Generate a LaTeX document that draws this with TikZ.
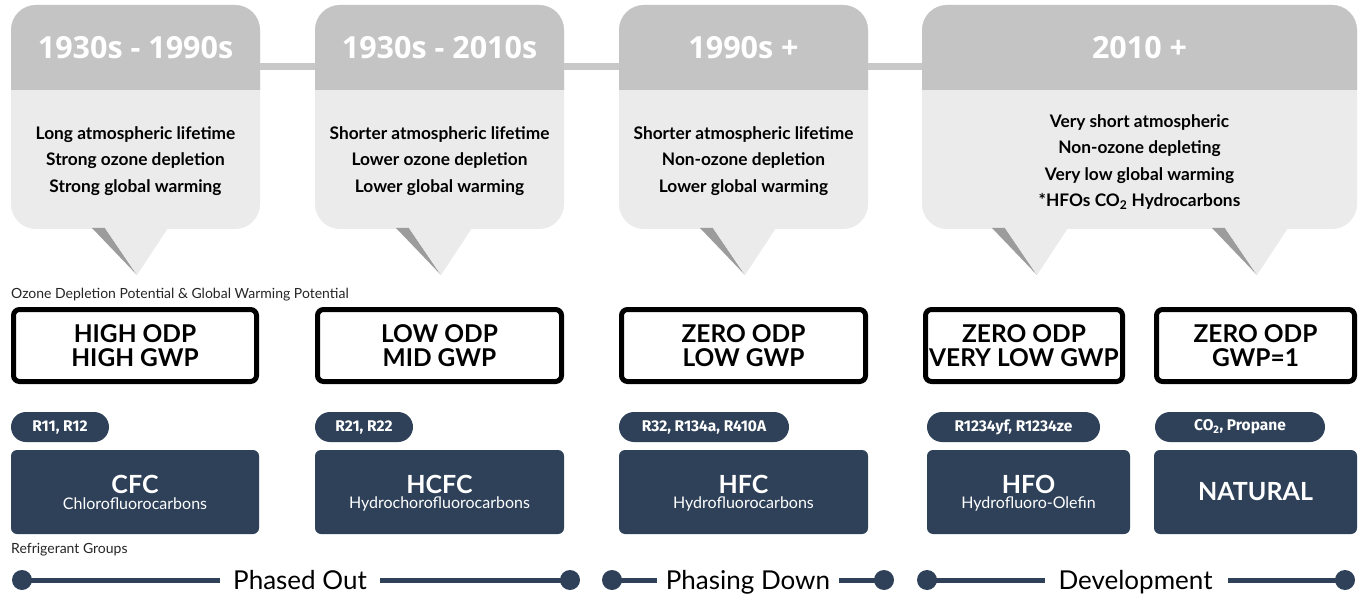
\documentclass[tikz,border=0pt]{standalone}
\usepackage{fontspec}
\setmainfont{Lato}
\newfontfamily\hdrfont{Open Sans}
\newfontfamily\pillfont{Fira Sans}
\definecolor{navy}{HTML}{2E4159}
\definecolor{hdrgray}{HTML}{C4C4C4}
\definecolor{bodygray}{HTML}{EBEBEB}
\definecolor{tailgray}{HTML}{9C9C9C}
\definecolor{bargray}{HTML}{C8C8C8}
\tikzset{
  hdrtext/.style={text=white, inner sep=0pt, font=\hdrfont\bfseries\fontsize{30.5}{32}\selectfont},
  bodytext/.style={align=center, inner sep=0pt, font=\bfseries\fontsize{17.3}{26.5}\selectfont},
  odpbox/.style={draw=black, line width=5pt, rounded corners=6pt, fill=white, inner sep=0pt,
    align=center, font=\bfseries\fontsize{24.5}{24}\selectfont},
  pill/.style={fill=navy, rounded corners=15pt, minimum height=30pt, inner sep=0pt,
    text=white, font=\pillfont\bfseries\fontsize{15.5}{16}\selectfont},
  groupbox/.style={fill=navy, rounded corners=6pt, minimum height=84pt, inner sep=0pt},
  grouptitle/.style={text=white, inner sep=0pt, font=\bfseries\fontsize{25}{25}\selectfont},
  groupsub/.style={text=white, inner sep=0pt, font=\fontsize{16}{16}\selectfont},
  smalllabel/.style={anchor=west, inner sep=0pt, text=black!85, font=\fontsize{14}{14}\selectfont},
  tldot/.style={circle, fill=navy, minimum size=20pt, inner sep=0pt},
  tlline/.style={navy, line width=5pt},
  tltext/.style={inner sep=0pt, anchor=base, font=\fontsize{26}{28}\selectfont},
}
\newcommand{\callout}[2]{% x1, x2
  \fill[bodygray, rounded corners=25pt] (#1,5) rectangle (#2,229);
  \begin{scope}
    \clip (#1,5) rectangle (#2,90);
    \fill[hdrgray, rounded corners=25pt] (#1,5) rectangle (#2,229);
  \end{scope}
}
\newcommand{\calltail}[1]{% apex x
  \fill[tailgray] (#1-45,228) -- (#1-32,228) -- (#1,275) -- cycle;
  \fill[bodygray] (#1-32,228) -- (#1+31,228) -- (#1,275) -- cycle;
}
\begin{document}
\begin{tikzpicture}[x=1pt,y=-1pt]
\useasboundingbox (0,0) rectangle (1360,596);
\fill[white] (0,0) rectangle (1360,596);

% connecting bars
\fill[bargray] (250,63) rectangle (325,70);
\fill[bargray] (554,63) rectangle (629,70);
\fill[bargray] (858,63) rectangle (932,70);

% callouts
\callout{11}{260}
\callout{315}{564}
\callout{619}{868}
\callout{922}{1357}
\calltail{137}
\calltail{441}
\calltail{745}
\calltail{1037}
\calltail{1257}

\node[hdrtext] (h1) at (135.5,48) {1930s - 1990s};
\node[hdrtext] (h2) at (439.5,48) {1930s - 2010s};
\node[hdrtext] (h3) at (743.5,48) {1990s +};
\node[hdrtext] (h4) at (1139.5,48) {2010 +};

\node[bodytext] (b1) at (135.5,161) {Long atmospheric lifetime\\Strong ozone depletion\\Strong global warming};
\node[bodytext] (b2) at (439.5,161) {Shorter atmospheric lifetime\\Lower ozone depletion\\Lower global warming};
\node[bodytext] (b3) at (743.5,161) {Shorter atmospheric lifetime\\Non-ozone depletion\\Lower global warming};
\node[bodytext] (b4) at (1139.5,162) {Very short atmospheric\\Non-ozone depleting\\Very low global warming\\*HFOs CO\textsubscript{2} Hydrocarbons};

% ODP label
\node[smalllabel] (odplabel) at (11,295) {Ozone Depletion Potential \& Global Warming Potential};

% ODP boxes
\node[odpbox, minimum width=243pt, minimum height=72pt] (o1) at (135,345.5) {HIGH ODP\\HIGH GWP};
\node[odpbox, minimum width=244pt, minimum height=72pt] (o2) at (439.5,345.5) {LOW ODP\\MID GWP};
\node[odpbox, minimum width=244pt, minimum height=72pt] (o3) at (743.5,345.5) {ZERO ODP\\LOW GWP};
\node[odpbox, minimum width=197pt, minimum height=72pt] (o4) at (1024,345.5) {ZERO ODP\\VERY LOW GWP};
\node[odpbox, minimum width=198pt, minimum height=72pt] (o5) at (1255.5,345.5) {ZERO ODP\\GWP=1};

% pills
\node[pill, minimum width=98pt] (p1) at (60,427) {R11, R12};
\node[pill, minimum width=98pt] (p2) at (364,427) {R21, R22};
\node[pill, minimum width=170pt] (p3) at (704,427) {R32, R134a, R410A};
\node[pill, minimum width=173pt] (p4) at (1013.5,427) {R1234yf, R1234ze};
\node[pill, minimum width=170pt] (p5) at (1240,427) {CO\textsubscript{2}, Propane};

% group boxes
\node[groupbox, minimum width=248pt] (g1) at (135,492) {};
\node[groupbox, minimum width=249pt] (g2) at (439.5,492) {};
\node[groupbox, minimum width=249pt] (g3) at (743.5,492) {};
\node[groupbox, minimum width=203pt] (g4) at (1028.5,492) {};
\node[groupbox, minimum width=203pt] (g5) at (1255.5,492) {};
\node[grouptitle] (g1t) at (135,484) {CFC};
\node[groupsub] (g1s) at (135,504) {Chlorofluorocarbons};
\node[grouptitle] (g2t) at (439.5,484) {HCFC};
\node[groupsub] (g2s) at (439.5,504) {Hydrochorofluorocarbons};
\node[grouptitle] (g3t) at (743.5,484) {HFC};
\node[groupsub] (g3s) at (743.5,504) {Hydrofluorocarbons};
\node[grouptitle] (g4t) at (1028.5,484) {HFO};
\node[groupsub] (g4s) at (1028.5,504) {Hydrofluoro-Olefin};
\node[grouptitle] (g5t) at (1255.5,492) {NATURAL};

\node[smalllabel] (rglabel) at (11,550) {Refrigerant Groups};

% bottom timeline
\node[tldot] (d1) at (22,580) {};
\node[tldot] (d2) at (570,580) {};
\node[tldot] (d3) at (612,580) {};
\node[tldot] (d4) at (884,580) {};
\node[tldot] (d5) at (927,580) {};
\node[tldot] (d6) at (1345,580) {};
\node[tltext] (t1) at (300,589) {Phased Out};
\node[tltext] (t2) at (748,589) {Phasing Down};
\node[tltext] (t3) at (1135.5,589) {Development};
\coordinate (e1) at (220,580);
\coordinate (e2) at (380,580);
\coordinate (e3) at (657,580);
\coordinate (e4) at (839,580);
\coordinate (e5) at (1045,580);
\coordinate (e6) at (1228,580);
\draw[tlline] (d1.center) -- (e1);
\draw[tlline] (e2) -- (d2.center);
\draw[tlline] (d3.center) -- (e3);
\draw[tlline] (e4) -- (d4.center);
\draw[tlline] (d5.center) -- (e5);
\draw[tlline] (e6) -- (d6.center);
\end{tikzpicture}
\end{document}
